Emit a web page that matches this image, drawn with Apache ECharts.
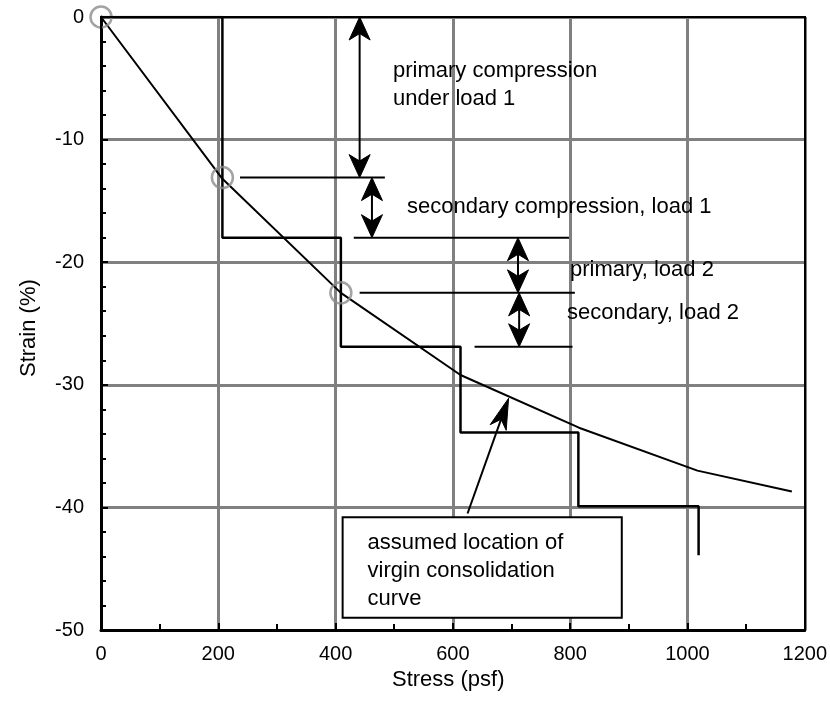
<!DOCTYPE html>
<html>
<head>
<meta charset="utf-8">
<title>Strain vs Stress</title>
<script src="https://cdn.jsdelivr.net/npm/echarts@6/dist/echarts.min.js"></script>
<style>
  html, body { margin: 0; padding: 0; background: #fff; }
  #chart { width: 830px; height: 718px; }
</style>
</head>
<body>
<div id="chart"></div>
<script>
// Virgin consolidation curve (stress in psf, strain in %)
const curveStress = [0, 207, 409, 613, 815, 1017, 1178];
const curveStrain = [0, -13.2, -22.5, -29.2, -33.5, -37.0, -38.7];

// Stepped loading record: each load increment, then the strain reached under it
const stepStress = [0, 207, 409, 613, 814, 1019];
const stepStrain = [0, -18.0, -26.9, -33.9, -39.9, -43.9];

// End of primary compression under each load (open circles)
const markStress = [0, 207, 409];
const markStrain = [0, -13.1, -22.5];

// Horizontal reference levels: [strain, from stress, to stress]
const refLevels = [
  [-13.1, 237, 484],
  [-18.0, 431, 798],
  [-22.5, 441, 808],
  [-26.9, 637, 804]
];

// Double-headed dimension arrows: [stress, upper strain, lower strain]
const dimArrows = [
  [441, 0, -13.1],
  [462, -13.1, -18.0],
  [711, -18.0, -22.5],
  [713, -22.5, -26.9]
];

// Pointer from the note box to the curve: [from stress, from strain, to stress, to strain]
const pointer = [[625, -40.5, 695, -31.1]];

// Note box extent: [left stress, top strain, right stress, bottom strain]
const noteBox = [[412, -40.8, 888, -49.0]];
const noteText = 'assumed location of\nvirgin consolidation\ncurve';

const FONT = '"Liberation Sans", Arial, Helvetica, sans-serif';

const chart = echarts.init(document.getElementById('chart'), null, { renderer: 'canvas' });

function arrowHead(tip, dir, len, halfW) {
  const n = [-dir[1], dir[0]];
  const base = [tip[0] - dir[0] * len, tip[1] - dir[1] * len];
  const notch = [tip[0] - dir[0] * len * 0.72, tip[1] - dir[1] * len * 0.72];
  return {
    type: 'polygon',
    shape: { points: [tip, [base[0] + n[0] * halfW, base[1] + n[1] * halfW], notch, [base[0] - n[0] * halfW, base[1] - n[1] * halfW]] },
    style: { fill: '#000', stroke: '#000', lineWidth: 1 }
  };
}

function unit(a, b) {
  const dx = b[0] - a[0], dy = b[1] - a[1];
  const l = Math.hypot(dx, dy) || 1;
  return [dx / l, dy / l];
}

const option = {
  backgroundColor: '#fff',
  animation: false,
  grid: { left: 101, right: 25, top: 17, bottom: 88, containLabel: false },
  xAxis: {
    type: 'value',
    min: 0, max: 1200, interval: 200,
    axisLine: { show: true, onZero: false, lineStyle: { color: '#000', width: 3 } },
    axisTick: { show: true, inside: true, length: 7, lineStyle: { color: '#000', width: 2 } },
    minorTick: { show: true, splitNumber: 2, length: 6, lineStyle: { color: '#000', width: 2 } },
    axisLabel: { color: '#000', fontSize: 20, fontFamily: FONT, margin: 14, formatter: v => String(v) },
    splitLine: { show: true, lineStyle: { color: '#808080', width: 3 } }
  },
  yAxis: {
    type: 'value',
    min: -50, max: 0, interval: 10,
    axisLine: { show: true, onZero: false, lineStyle: { color: '#000', width: 3 } },
    axisTick: { show: true, inside: true, length: 7, lineStyle: { color: '#000', width: 2 } },
    minorTick: { show: true, splitNumber: 5, length: 5, lineStyle: { color: '#000', width: 2 } },
    axisLabel: { color: '#000', fontSize: 20, fontFamily: FONT, margin: 17, formatter: v => String(v) },
    splitLine: { show: true, lineStyle: { color: '#808080', width: 3 } }
  },
  series: [
    {
      name: 'load steps',
      type: 'line',
      step: 'end',
      data: stepStress.map((x, i) => [x, stepStrain[i]]),
      symbol: 'none',
      lineStyle: { color: '#000', width: 2.5 },
      z: 3
    },
    {
      name: 'virgin curve',
      type: 'line',
      data: curveStress.map((x, i) => [x, curveStrain[i]]),
      symbol: 'none',
      lineStyle: { color: '#000', width: 2 },
      z: 4
    },
    {
      name: 'end of primary',
      type: 'scatter',
      data: markStress.map((x, i) => [x, markStrain[i]]),
      symbol: 'circle',
      symbolSize: 21,
      itemStyle: { color: 'rgba(255,255,255,0)', borderColor: '#8c8c8c', borderWidth: 2.5 },
      z: 5
    },
    {
      name: 'reference levels',
      type: 'custom',
      data: refLevels,
      renderItem: function (params, api) {
        const a = api.coord([api.value(1), api.value(0)]);
        const b = api.coord([api.value(2), api.value(0)]);
        return { type: 'line', shape: { x1: a[0], y1: a[1], x2: b[0], y2: b[1] }, style: { stroke: '#000', lineWidth: 2 } };
      },
      z: 4
    },
    {
      name: 'dimension arrows',
      type: 'custom',
      data: dimArrows,
      renderItem: function (params, api) {
        const top = api.coord([api.value(0), api.value(1)]);
        const bot = api.coord([api.value(0), api.value(2)]);
        const up = unit(bot, top), down = unit(top, bot);
        return {
          type: 'group',
          children: [
            { type: 'line', shape: { x1: top[0], y1: top[1] + 6, x2: bot[0], y2: bot[1] - 6 }, style: { stroke: '#000', lineWidth: 2 } },
            arrowHead(top, up, 23, 10.5),
            arrowHead(bot, down, 23, 10.5)
          ]
        };
      },
      z: 6
    },
    {
      name: 'note box',
      type: 'custom',
      data: noteBox,
      renderItem: function (params, api) {
        const tl = api.coord([api.value(0), api.value(1)]);
        const br = api.coord([api.value(2), api.value(3)]);
        return {
          type: 'group',
          children: [
            { type: 'rect', shape: { x: tl[0], y: tl[1], width: br[0] - tl[0], height: br[1] - tl[1] }, style: { fill: '#fff', stroke: '#000', lineWidth: 2 } },
            { type: 'text', x: tl[0] + 25, y: tl[1] + 12, style: { text: noteText, fill: '#000', font: '22px ' + FONT, lineHeight: 28, textVerticalAlign: 'top' } }
          ]
        };
      },
      z: 6
    },
    {
      name: 'pointer',
      type: 'custom',
      data: pointer,
      renderItem: function (params, api) {
        const a = api.coord([api.value(0), api.value(1)]);
        const b = api.coord([api.value(2), api.value(3)]);
        const d = unit(a, b);
        return {
          type: 'group',
          children: [
            { type: 'line', shape: { x1: a[0], y1: a[1], x2: b[0] - d[0] * 10, y2: b[1] - d[1] * 10 }, style: { stroke: '#000', lineWidth: 2 } },
            arrowHead(b, d, 31, 8.5)
          ]
        };
      },
      z: 7
    }
  ],
  graphic: [
    { type: 'text', left: 393, top: 57, style: { text: 'primary compression\nunder load 1', fill: '#000', font: '22px ' + FONT, lineHeight: 28 }, z: 10 },
    { type: 'text', left: 407, top: 193, style: { text: 'secondary compression, load 1', fill: '#000', font: '22px ' + FONT, lineHeight: 28 }, z: 10 },
    { type: 'text', left: 570, top: 256, style: { text: 'primary, load 2', fill: '#000', font: '22px ' + FONT, lineHeight: 28 }, z: 10 },
    { type: 'text', left: 567, top: 299, style: { text: 'secondary, load 2', fill: '#000', font: '22px ' + FONT, lineHeight: 28 }, z: 10 },
    { type: 'text', left: 392, top: 669, style: { text: 'Stress (psf)', fill: '#000', font: '22px ' + FONT } },
    { type: 'text', x: 18, y: 377, rotation: Math.PI / 2, style: { text: 'Strain (%)', fill: '#000', font: '22px ' + FONT } },
    // plot frame on the top and right edges
    { type: 'rect', shape: { x: 101, y: 17, width: 704, height: 613 }, style: { fill: 'none', stroke: '#000', lineWidth: 2 }, z: 20, silent: true }
  ]
};

chart.setOption(option);
</script>
</body>
</html>
